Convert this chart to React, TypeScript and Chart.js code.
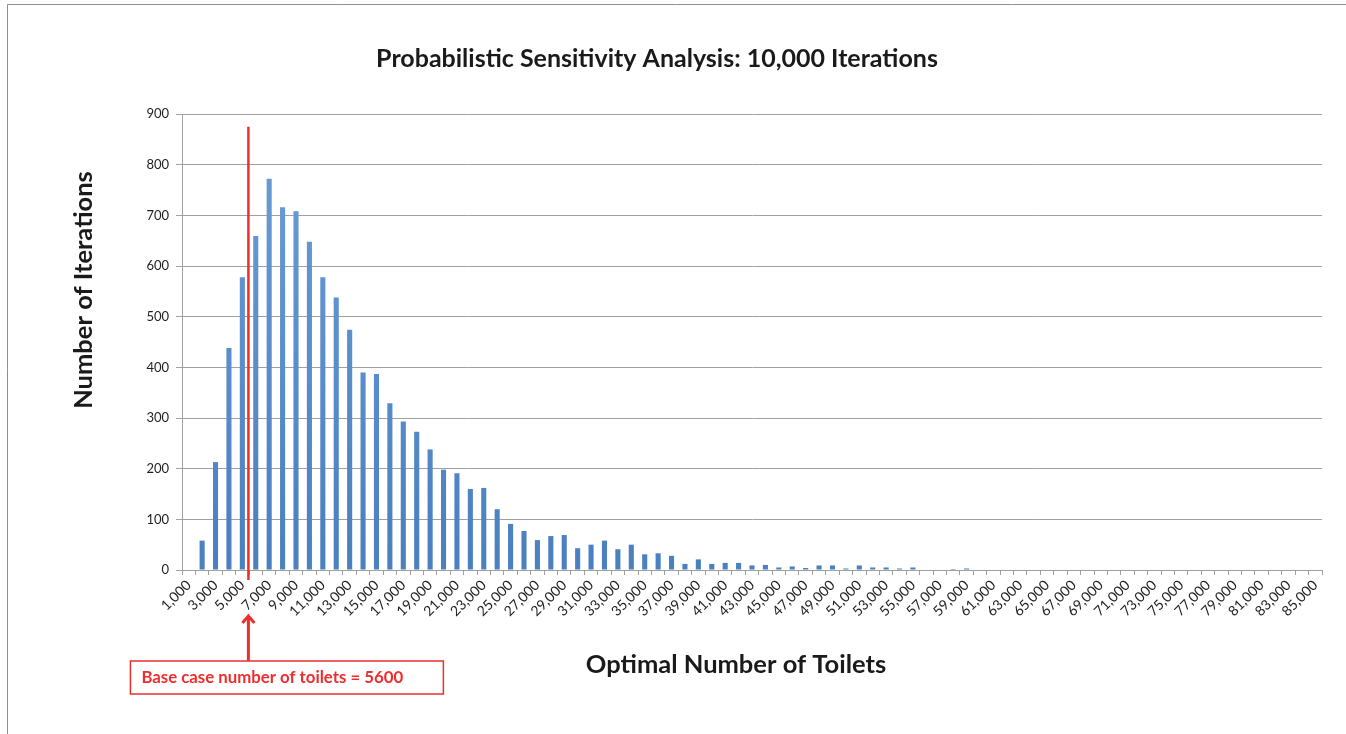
import React, { useEffect, useRef } from "react";
import { Chart, registerables } from "chart.js";

Chart.register(...registerables);

const chartTitle = "Probabilistic Sensitivity Analysis: 10,000 Iterations";
const xAxisTitle = "Optimal Number of Toilets";
const yAxisTitle = "Number of Iterations";
const annotationText = "Base case number of toilets = 5600";
const baseCaseToilets = 5600;
const baseCaseLineTop = 875;

const toiletCategories = [
  1000, 2000, 3000, 4000, 5000, 6000, 7000, 8000, 9000, 10000,
  11000, 12000, 13000, 14000, 15000, 16000, 17000, 18000, 19000, 20000,
  21000, 22000, 23000, 24000, 25000, 26000, 27000, 28000, 29000, 30000,
  31000, 32000, 33000, 34000, 35000, 36000, 37000, 38000, 39000, 40000,
  41000, 42000, 43000, 44000, 45000, 46000, 47000, 48000, 49000, 50000,
  51000, 52000, 53000, 54000, 55000, 56000, 57000, 58000, 59000, 60000,
  61000, 62000, 63000, 64000, 65000, 66000, 67000, 68000, 69000, 70000,
  71000, 72000, 73000, 74000, 75000, 76000, 77000, 78000, 79000, 80000,
  81000, 82000, 83000, 84000, 85000,
];

const iterationCounts = [
  0, 58, 213, 438, 578, 659, 772, 716, 708, 648,
  578, 538, 474, 390, 387, 329, 293, 273, 238, 198,
  191, 160, 162, 120, 91, 77, 59, 67, 69, 43,
  50, 58, 41, 50, 31, 33, 28, 12, 21, 12,
  14, 14, 9, 10, 5, 7, 4, 9, 9, 3,
  9, 5, 5, 3, 5, 0, 0, 2, 3, 0,
  0, 0, 1, 0, 0, 0, 0, 0, 0, 1,
  0, 0, 1, 0, 0, 0, 0, 0, 0, 0,
  0, 0, 0, 0, 0,
];

const yTickValues = [0, 100, 200, 300, 400, 500, 600, 700, 800, 900];

const FONT = "Lato, 'Open Sans', sans-serif";
const RED = "#ee2e2e";

const overlayPlugin = {
  id: "overlay",
  beforeDraw(chart: any) {
    const ctx = chart.ctx;
    ctx.save();
    ctx.fillStyle = "#ffffff";
    ctx.fillRect(0, 0, chart.width, chart.height);
    ctx.strokeStyle = "#8f8f8f";
    ctx.lineWidth = 1;
    ctx.beginPath();
    ctx.moveTo(7.5, chart.height);
    ctx.lineTo(7.5, 4.5);
    ctx.lineTo(chart.width, 4.5);
    ctx.stroke();
    ctx.restore();
  },
  afterDraw(chart: any) {
    const ctx = chart.ctx;
    const xs = chart.scales.x;
    const ys = chart.scales.y;
    const area = chart.chartArea;
    ctx.save();
    ctx.fillStyle = "#1a1a1a";
    ctx.textAlign = "center";
    ctx.textBaseline = "middle";
    ctx.font = `bold 25px ${FONT}`;
    ctx.fillText(chartTitle, 657, 59);
    ctx.font = `bold 25.5px ${FONT}`;
    ctx.fillText(xAxisTitle, 736, 665);
    ctx.save();
    ctx.translate(84, 290);
    ctx.rotate(-Math.PI / 2);
    ctx.fillText(yAxisTitle, 0, 0);
    ctx.restore();

    // base case marker
    const step = toiletCategories[1] - toiletCategories[0];
    const idx = (baseCaseToilets - toiletCategories[0]) / step;
    const i0 = Math.floor(idx);
    const p0 = xs.getPixelForValue(i0);
    const p1 = xs.getPixelForValue(i0 + 1);
    const bx = p0 + (p1 - p0) * (idx - i0) - 2;
    ctx.strokeStyle = RED;
    ctx.lineWidth = 2.5;
    ctx.beginPath();
    ctx.moveTo(bx, ys.getPixelForValue(baseCaseLineTop));
    ctx.lineTo(bx, area.bottom + 10);
    ctx.stroke();

    // arrow
    const tipY = area.bottom + 45;
    const boxTop = area.bottom + 91;
    ctx.lineWidth = 3;
    ctx.beginPath();
    ctx.moveTo(bx, tipY + 1);
    ctx.lineTo(bx, boxTop);
    ctx.stroke();
    ctx.beginPath();
    ctx.moveTo(bx - 6, tipY + 8);
    ctx.lineTo(bx, tipY + 1);
    ctx.lineTo(bx + 6, tipY + 8);
    ctx.stroke();

    // box
    const boxLeft = bx - 118;
    ctx.fillStyle = "#ffffff";
    ctx.fillRect(boxLeft, boxTop, 313, 33);
    ctx.lineWidth = 1.5;
    ctx.strokeRect(boxLeft, boxTop, 313, 33);
    ctx.fillStyle = RED;
    ctx.textAlign = "left";
    ctx.font = `bold 16.8px ${FONT}`;
    ctx.fillText(annotationText, boxLeft + 11, boxTop + 17);
    ctx.restore();
  },
};

export default function App() {
  const ref = useRef<HTMLCanvasElement | null>(null);
  useEffect(() => {
    if (!ref.current) return;
    const chart = new Chart(ref.current, {
      type: "bar",
      data: {
        labels: toiletCategories.map((v) => v.toLocaleString("en-US")),
        datasets: [
          {
            data: iterationCounts,
            backgroundColor: (c: any) => {
              const ch = c.chart;
              const a = ch.chartArea;
              if (!a) return "#5b8fcc";
              const g = ch.ctx.createLinearGradient(0, a.top, 0, a.bottom);
              g.addColorStop(0, "#6c9fd9");
              g.addColorStop(1, "#4a7fc0");
              return g;
            },
            borderWidth: 0,
            categoryPercentage: 1,
            barPercentage: 0.38,
          },
        ],
      },
      options: {
        responsive: false,
        animation: false,
        layout: { padding: { left: 0, top: 114, right: 24, bottom: 0 } },
        plugins: {
          legend: { display: false },
          title: { display: false },
          tooltip: { enabled: false },
        },
        scales: {
          x: {
            type: "category",
            afterFit: (s: any) => {
              s.height = 164;
            },
            grid: {
              offset: true,
              drawOnChartArea: false,
              drawTicks: true,
              tickLength: 5,
              color: "#a0a0a0",
            },
            border: { color: "#a0a0a0" },
            ticks: {
              autoSkip: false,
              maxRotation: 45,
              minRotation: 45,
              padding: 2,
              color: "#1f1f1f",
              font: { family: FONT, size: 14 },
              callback: (_v: any, i: number) =>
                i % 2 === 0 ? toiletCategories[i].toLocaleString("en-US") : "",
            },
          },
          y: {
            min: 0,
            max: 900,
            afterFit: (s: any) => {
              s.width = 182;
            },
            afterBuildTicks: (s: any) => {
              s.ticks = yTickValues.map((v) => ({ value: v }));
            },
            grid: {
              color: "#a0a0a0",
              tickLength: 6,
              lineWidth: 1,
            },
            border: { color: "#a0a0a0" },
            ticks: {
              padding: 7,
              color: "#1f1f1f",
              font: { family: FONT, size: 13 },
            },
          },
        },
      },
      plugins: [overlayPlugin],
    });
    return () => chart.destroy();
  }, []);
  return (
    <div style={{ position: "absolute", left: 0, top: 0, width: 1346, height: 734 }}>
      <canvas ref={ref} width={1346} height={734} />
    </div>
  );
}
